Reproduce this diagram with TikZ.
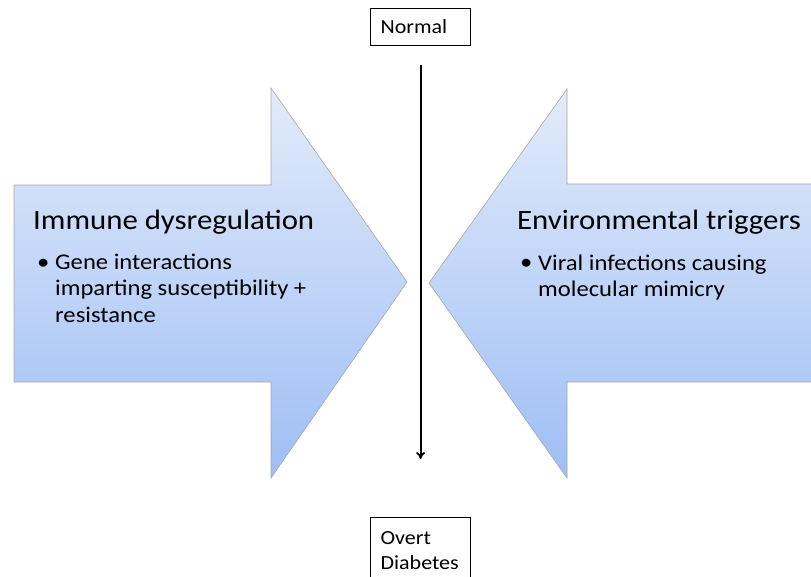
\documentclass[tikz,border=0pt]{standalone}
\usepackage{fontspec}
\setmainfont[FakeStretch=1.1]{Carlito}
\usetikzlibrary{positioning}
\usetikzlibrary{arrows.meta}

\definecolor{shadetop}{RGB}{226,235,250}
\definecolor{shadebot}{RGB}{158,190,245}

\tikzset{
  bigarrow/.style={draw=black!35, line width=0.6pt, top color=shadetop, bottom color=shadebot},
  heading/.style={font=\fontsize{28}{32}\selectfont, anchor=base west, inner sep=0pt},
  point/.style={font=\fontsize{22.4}{26}\selectfont, anchor=base west, align=left, inner sep=0pt},
  stagebox/.style={draw, line width=1.2pt, font=\fontsize{20}{25}\selectfont, align=left,
    anchor=north west, text width=80pt, inner xsep=10pt, inner ysep=6pt}
}

\begin{document}
\begin{tikzpicture}[x=1pt, y=-1pt]
   \useasboundingbox (0,0) rectangle (811,577);

   % the two big arrows
   \path[bigarrow] (14,185) -- (271,185) -- (271,88) -- (407,282) -- (271,478)
      -- (271,382) -- (14,382) -- cycle;
   \path[bigarrow] (820,184) -- (567,184) -- (567,89) -- (429,283) -- (567,478)
      -- (567,382) -- (820,382) -- cycle;

   % base of a point node is its last line
   \node[heading] (immune) at (33,230) {Immune dysregulation};
   \node[point] (immunedot) at (37,270) {\textbullet};
   \node[point] (gene) at (55,322) {Gene interactions\\imparting susceptibility +\\resistance};

   \node[heading] (env) at (517,230) {Environmental triggers};
   \node[point] (envdot) at (520,270) {\textbullet};
   \node[point] (viral) at (538,297) {Viral infections causing\\molecular mimicry};

   % stages
   \node[stagebox, minimum height=37pt] (normal) at (370,8) {Normal};
   \node[stagebox, inner ysep=14pt, text depth=40pt] (overt) at (370,517) {Overt\\Diabetes};

   \draw[-{To[length=7pt,width=9pt]}, line width=1.8pt, shorten <=19pt, shorten >=58pt]
      (normal) -- (overt);
\end{tikzpicture}
\end{document}
